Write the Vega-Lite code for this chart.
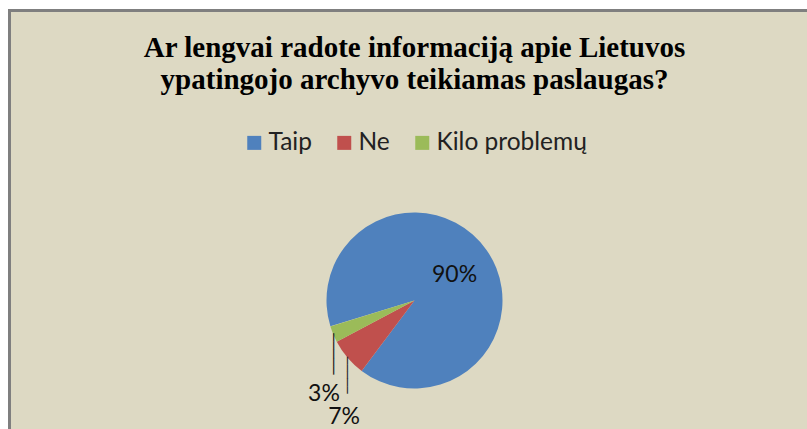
{
  "$schema": "https://vega.github.io/schema/vega-lite/v6.json",
  "autosize": {"type": "none"},
  "width": 810,
  "height": 580,
  "padding": {"left": 9.5, "top": 10.5, "right": -12.5, "bottom": -161.5},
  "background": "#FFFFFF",
  "view": {"fill": "#DDD9C3", "stroke": "#7F7F7F", "strokeWidth": 3},
  "title": {
    "text": ["Ar lengvai radote informaciją apie Lietuvos", "ypatingojo archyvo teikiamas paslaugas?"],
    "font": "Liberation Serif",
    "fontSize": 29,
    "fontWeight": "bold",
    "color": "#000000",
    "anchor": "middle",
    "frame": "group",
    "orient": "top",
    "offset": 0,
    "baseline": "top",
    "dy": 85,
    "lineHeight": 32.7
  },
  "data": {
    "values": [
      {"cat": "Taip", "val": 90, "ord": 1, "lbl": "90%"},
      {"cat": "Ne", "val": 7, "ord": 2, "lbl": "7%"},
      {"cat": "Kilo problemų", "val": 3, "ord": 3, "lbl": "3%"}
    ]
  },
  "encoding": {
    "theta": {"field": "val", "type": "quantitative", "stack": true, "scale": {"range": [4.414, 10.697]}},
    "order": {"field": "ord", "type": "quantitative"},
    "detail": {"field": "cat", "type": "nominal"}
  },
  "layer": [
    {
      "mark": {"type": "arc", "outerRadius": 88, "strokeWidth": 0},
      "encoding": {
        "color": {
          "field": "cat",
          "type": "nominal",
          "scale": {"domain": ["Taip", "Ne", "Kilo problemų"], "range": ["#4F81BD", "#C0504D", "#9BBB59"]},
          "legend": {
            "title": null,
            "orient": "none",
            "direction": "horizontal",
            "legendX": 232.5,
            "legendY": 120,
            "padding": 0,
            "symbolType": "square",
            "symbolSize": 196,
            "symbolStrokeWidth": 0,
            "symbolOpacity": 1,
            "labelFont": "Lato",
            "labelFontSize": 24.5,
            "labelColor": "#222222",
            "labelOffset": 2,
            "columnPadding": 20,
            "labelLimit": 400
          }
        }
      }
    },
    {
      "mark": {"type": "text", "radius": 49, "dy": 3, "font": "Lato", "fontSize": 23, "color": "#111111", "baseline": "middle", "align": "center"},
      "encoding": {
        "text": {"condition": {"test": "datum.cat === 'Taip'", "field": "lbl"}, "value": ""}
      }
    },
    {
      "mark": {"type": "text", "radius": 98, "dy": 55.5, "font": "Lato", "fontSize": 23, "color": "#111111", "baseline": "middle", "align": "center"},
      "encoding": {
        "text": {"condition": {"test": "datum.cat === 'Kilo problemų'", "field": "lbl"}, "value": ""}
      }
    },
    {
      "mark": {"type": "text", "radius": 92.7, "dy": 56, "font": "Lato", "fontSize": 23, "color": "#111111", "baseline": "middle", "align": "center"},
      "encoding": {
        "text": {"condition": {"test": "datum.cat === 'Ne'", "field": "lbl"}, "value": ""}
      }
    },
    {
      "mark": {"type": "text", "radius": 88.5, "angle": 90, "dx": 19.5, "font": "DejaVu Sans", "fontSize": 13.7, "color": "#1A1A1A", "baseline": "middle", "align": "center"},
      "encoding": {
        "text": {"condition": {"test": "datum.cat === 'Kilo problemų'", "value": "─────"}, "value": ""}
      }
    },
    {
      "mark": {"type": "text", "radius": 88.8, "angle": 90, "dx": 17, "font": "DejaVu Sans", "fontSize": 12.2, "color": "#1A1A1A", "baseline": "middle", "align": "center"},
      "encoding": {
        "text": {"condition": {"test": "datum.cat === 'Ne'", "value": "─────"}, "value": ""}
      }
    }
  ],
  "config": {
    "view": {"fill": "#DDD9C3", "stroke": "#7F7F7F", "strokeWidth": 3},
    "style": {"cell": {"fill": "#DDD9C3", "stroke": "#7F7F7F", "strokeWidth": 3}}
  }
}
